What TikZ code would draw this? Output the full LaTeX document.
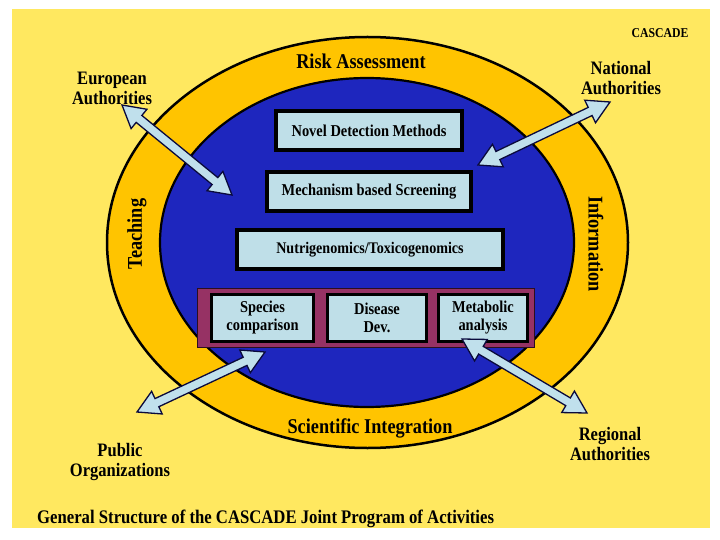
\documentclass[tikz,border=0pt]{standalone}
\usepackage{fontspec}
\setmainfont{Liberation Serif}[FakeStretch=0.87]
\usetikzlibrary{calc,shapes.geometric}
\definecolor{bgyellow}{RGB}{255,232,96}
\definecolor{ringorange}{RGB}{255,196,0}
\definecolor{innerblue}{RGB}{30,38,190}
\definecolor{boxblue}{RGB}{191,223,232}
\definecolor{maroonbox}{RGB}{150,50,100}
\definecolor{arrowfill}{RGB}{192,224,236}
\definecolor{arrowline}{RGB}{10,10,60}
\newcommand{\blockarrow}[2]{%
  \coordinate (h1) at ($(#1)!22pt!(#2)$);
  \coordinate (h2) at ($(#2)!22pt!(#1)$);
  \draw[arrowstyle] (#1) -- ($(h1)!12.5pt!90:(#2)$) -- ($(h1)!4.5pt!90:(#2)$)
    -- ($(h2)!4.5pt!-90:(#1)$) -- ($(h2)!12.5pt!-90:(#1)$) -- (#2)
    -- ($(h2)!12.5pt!90:(#1)$) -- ($(h2)!4.5pt!90:(#1)$)
    -- ($(h1)!4.5pt!-90:(#2)$) -- ($(h1)!12.5pt!-90:(#2)$) -- cycle;}
\begin{document}
\begin{tikzpicture}[x=1pt,y=-1pt,
  lbl/.style={font=\bfseries\fontsize{19}{20}\selectfont, align=center, inner sep=0pt, text=black},
  ringlbl/.style={font=\bfseries\fontsize{21}{22}\selectfont, inner sep=0pt, text=black},
  bigbox/.style={draw=black, line width=4pt, fill=boxblue, minimum height=39pt, inner sep=0pt,
    font=\bfseries\fontsize{16.6}{18}\selectfont, text=black},
  smallbox/.style={draw=black, line width=3pt, fill=boxblue, minimum height=47pt, inner sep=0pt,
    font=\bfseries\fontsize{16.6}{18}\selectfont, align=center, text=black},
  arrowstyle/.style={draw=arrowline, line width=1.3pt, fill=arrowfill, line join=miter}]
\useasboundingbox (0,0) rectangle (720,540);
\fill[white] (0,0) rectangle (720,540);
\fill[bgyellow] (12,9) rectangle (710,528);
% rings
\node[ellipse, draw=black, line width=2.5pt, fill=ringorange, minimum width=521pt, minimum height=411pt, inner sep=0pt] (ring) at (367.5,242.5) {};
\node[ellipse, draw=black, line width=2.2pt, fill=innerblue, minimum width=414pt, minimum height=329pt, inner sep=0pt] (core) at (367,242.5) {};
% ring labels
\node[ringlbl] (risk) at (361,61) {Risk Assessment};
\node[ringlbl] (sci) at (370,428) {Scientific Integration};
\node[ringlbl, rotate=90] (teach) at (137,234) {Teaching};
\node[ringlbl, rotate=-90] (info) at (596,244) {Information};
% central boxes
\node[bigbox, minimum width=186pt] (novel) at (369,130.5) {Novel Detection Methods};
\node[bigbox, minimum width=204pt] (mech) at (369,191.5) {Mechanism based Screening};
\node[bigbox, minimum width=266pt, font=\bfseries\fontsize{16.2}{18}\selectfont] (nutri) at (370,249.5) {Nutrigenomics/Toxicogenomics};
\node[draw=black!70!maroonbox, line width=1pt, fill=maroonbox, minimum width=337pt, minimum height=59pt, inner sep=0pt] (group) at (366,317.5) {};
\node[smallbox, minimum width=102pt] (species) at (262.5,318) {Species\\comparison};
\node[smallbox, minimum width=99pt] (disease) at (377,318) {Disease\\Dev.};
\node[smallbox, minimum width=89pt] (metab) at (483,318) {Metabolic\\analysis};
% outer labels
\node[font=\bfseries\fontsize{13.5}{14}\selectfont, inner sep=0pt] (cascade) at (660,33) {CASCADE};
\node[lbl] (euro) at (112,88) {European\\Authorities};
\node[lbl] (nat) at (621,78) {National\\Authorities};
\node[lbl] (pub) at (120,462) {Public\\Organizations};
\node[lbl] (reg) at (610,444) {Regional\\Authorities};
\node[anchor=west, font=\bfseries\fontsize{19.2}{20}\selectfont, inner sep=0pt] (caption) at (37,519) {General Structure of the CASCADE Joint Program of Activities};
% arrows
\coordinate (euA) at (122,105);
\coordinate (euB) at (232,195);
\coordinate (naA) at (610,102);
\coordinate (naB) at (478,165);
\coordinate (puA) at (137,412);
\coordinate (puB) at (265,352);
\coordinate (reA) at (462,339);
\coordinate (reB) at (587,413);
\blockarrow{euA}{euB}
\blockarrow{naA}{naB}
\blockarrow{puA}{puB}
\blockarrow{reA}{reB}
\end{tikzpicture}
\end{document}
